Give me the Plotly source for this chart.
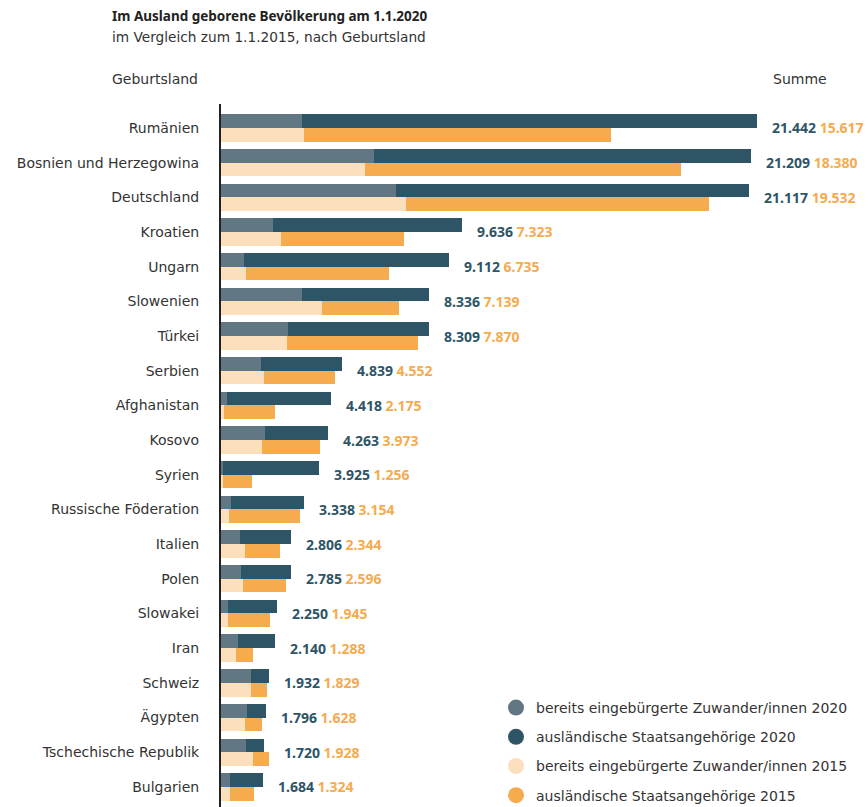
import plotly.graph_objects as go

# --- data -----------------------------------------------------------------
countries = [
    "Rumänien", "Bosnien und Herzegowina", "Deutschland", "Kroatien", "Ungarn",
    "Slowenien", "Türkei", "Serbien", "Afghanistan", "Kosovo", "Syrien",
    "Russische Föderation", "Italien", "Polen", "Slowakei", "Iran", "Schweiz",
    "Ägypten", "Tschechische Republik", "Bulgarien",
]
total_2020 = [21442, 21209, 21117, 9636, 9112, 8336, 8309, 4839, 4418, 4263,
              3925, 3338, 2806, 2785, 2250, 2140, 1932, 1796, 1720, 1684]
total_2015 = [15617, 18380, 19532, 7323, 6735, 7139, 7870, 4552, 2175, 3973,
              1256, 3154, 2344, 2596, 1945, 1288, 1829, 1628, 1928, 1324]
naturalized_2020 = [3240, 6120, 7000, 2070, 910, 3230, 2680, 1600, 230, 1760,
                    80, 400, 760, 800, 295, 680, 1200, 1040, 990, 360]
naturalized_2015 = [3320, 5760, 7400, 2390, 990, 4040, 2630, 1710, 135, 1640,
                    60, 320, 950, 880, 270, 590, 1200, 950, 1280, 350]

foreign_2020 = [t - n for t, n in zip(total_2020, naturalized_2020)]
foreign_2015 = [t - n for t, n in zip(total_2015, naturalized_2015)]

legend_names = [
    "bereits eingebürgerte Zuwander/innen 2020",
    "ausländische Staatsangehörige 2020",
    "bereits eingebürgerte Zuwander/innen 2015",
    "ausländische Staatsangehörige 2015",
]

# --- styling ----------------------------------------------------------------
C_NAT20 = "#627784"
C_FOR20 = "#2e5566"
C_NAT15 = "#fcdfbc"
C_FOR15 = "#f5ab4e"
TEXT = "#333333"
FONT = "DejaVu Sans"
BOLD_FONT = "Noto Sans"

W, H = 868, 807
ML, MR, MT, MB = 221, 0, 104, 0
PX_PER_UNIT = 0.025
BAR_W = 0.395


def fmt(v):
    return f"{v:,}".replace(",", ".")


def paper_x(px):
    return (px - ML) / (W - ML - MR)


def paper_y(py):
    return (H - MB - py) / (H - MT - MB)


rows = list(range(len(countries)))
y20 = [r - BAR_W / 2 for r in rows]
y15 = [r + BAR_W / 2 for r in rows]

fig = go.Figure()

fig.add_bar(y=y20, x=naturalized_2020, base=0, orientation="h", width=BAR_W,
            marker=dict(color=C_NAT20, line_width=0), showlegend=False,
            name=legend_names[0])
fig.add_bar(y=y20, x=foreign_2020, base=naturalized_2020, orientation="h",
            width=BAR_W, marker=dict(color=C_FOR20, line_width=0),
            showlegend=False, name=legend_names[1])
fig.add_bar(y=y15, x=naturalized_2015, base=0, orientation="h", width=BAR_W,
            marker=dict(color=C_NAT15, line_width=0), showlegend=False,
            name=legend_names[2])
fig.add_bar(y=y15, x=foreign_2015, base=naturalized_2015, orientation="h",
            width=BAR_W, marker=dict(color=C_FOR15, line_width=0),
            showlegend=False, name=legend_names[3])

# legend entries with round markers
for i, (name, col) in enumerate(zip(legend_names, [C_NAT20, C_FOR20, C_NAT15, C_FOR15])):
    fig.add_scatter(x=[None], y=[None], mode="markers", name=name,
                    legendgroup=f"g{i}",
                    marker=dict(symbol="circle", size=16, color=col))

# sum labels next to each pair of bars
annotations = []
for r, t20, t15 in zip(rows, total_2020, total_2015):
    annotations.append(dict(
        x=max(t20, t15), y=r, xref="x", yref="y", xanchor="left",
        yanchor="middle", xshift=13, showarrow=False,
        text=(f"<b><span style='color:{C_FOR20}'>{fmt(t20)}</span> "
              f"<span style='color:{C_FOR15}'>{fmt(t15)}</span></b>"),
        font=dict(family=BOLD_FONT, size=14),
    ))

# headings
annotations += [
    dict(x=paper_x(110), y=paper_y(16), xref="paper", yref="paper",
         xanchor="left", yanchor="middle", showarrow=False,
         text="<b>Im Ausland geborene Bevölkerung am 1.1.2020</b>",
         font=dict(family=BOLD_FONT, size=13.5, color="#222222")),
    dict(x=paper_x(110), y=paper_y(37), xref="paper", yref="paper",
         xanchor="left", yanchor="middle", showarrow=False,
         text="im Vergleich zum 1.1.2015, nach Geburtsland",
         font=dict(family=FONT, size=13.7, color=TEXT)),
    dict(x=paper_x(110), y=paper_y(79), xref="paper", yref="paper",
         xanchor="left", yanchor="middle", showarrow=False,
         text="Geburtsland", font=dict(family=FONT, size=14, color=TEXT)),
    dict(x=paper_x(771), y=paper_y(79), xref="paper", yref="paper",
         xanchor="left", yanchor="middle", showarrow=False,
         text="Summe", font=dict(family=FONT, size=14, color=TEXT)),
]

fig.update_layout(
    width=W, height=H,
    margin=dict(l=ML, r=MR, t=MT, b=MB, pad=0, autoexpand=False),
    paper_bgcolor="white", plot_bgcolor="white",
    barmode="overlay", bargap=0,
    font=dict(family=FONT, size=14, color=TEXT),
    annotations=annotations,
    legend=dict(x=paper_x(496), y=paper_y(692), xanchor="left", yanchor="top",
                bgcolor="rgba(0,0,0,0)", tracegroupgap=8,
                font=dict(family=FONT, size=14, color=TEXT)),
    xaxis=dict(range=[0, (W - ML - MR) / PX_PER_UNIT], visible=False,
               showgrid=False, zeroline=False),
    yaxis=dict(range=[19.58, -0.69], tickvals=rows, ticktext=countries,
               showgrid=False, zeroline=False, showline=True, linewidth=2,
               linecolor="#222222", ticks="outside", ticklen=17,
               tickcolor="rgba(0,0,0,0)",
               tickfont=dict(family=FONT, size=14, color=TEXT)),
)

fig.write_html("out.html")
